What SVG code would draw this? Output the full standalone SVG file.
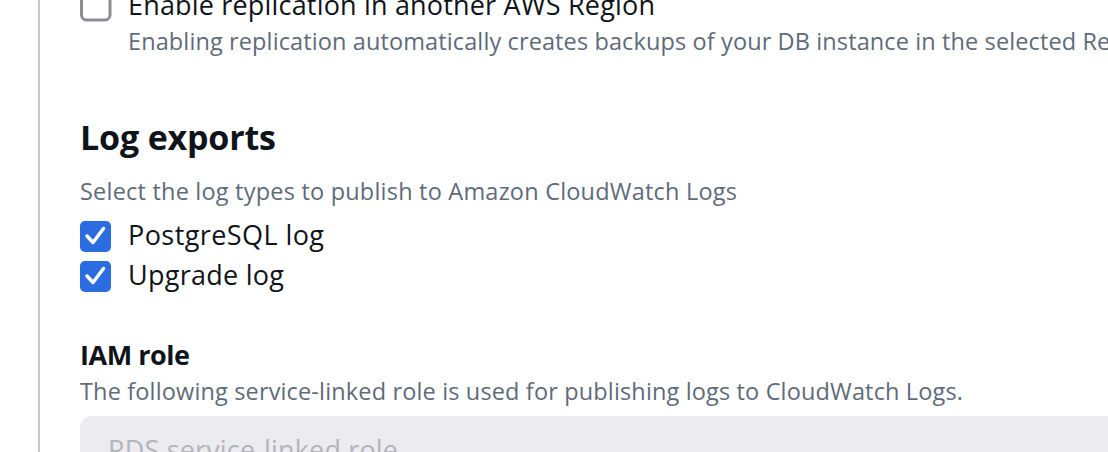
<svg xmlns="http://www.w3.org/2000/svg" width="1108" height="452" viewBox="0 0 1108 452">
<style>
.t{font-family:"Open Sans","Noto Sans","Liberation Sans",sans-serif;}
.main{font-size:27px;fill:#0f141a;}
.sub{font-size:23.5px;fill:#5f6b7a;}
.h1{font-size:34px;font-weight:bold;fill:#0f141a;}
.h2{font-size:27px;font-weight:bold;fill:#0f141a;}
.ph{font-size:27px;fill:#b4b4bb;}
.cb{fill:#2b6ce0;}
.ck{fill:none;stroke:#fff;stroke-width:3.5;stroke-linecap:round;stroke-linejoin:round;}
</style>
<rect x="0" y="0" width="1108" height="452" fill="#ffffff"/>
<rect x="38" y="0" width="2" height="452" fill="#c6c6cd"/>
<g id="replication">
<rect x="81.5" y="-12" width="28.5" height="32" rx="5" fill="#fff" stroke="#8c8c94" stroke-width="3"/>
<text class="t main" x="128" y="15" textLength="527">Enable replication in another AWS Region</text>
<text class="t sub" x="128" y="50" textLength="1030">Enabling replication automatically creates backups of your DB instance in the selected Region</text>
</g>
<g id="log-exports">
<text class="t h1" x="80" y="150" textLength="196">Log exports</text>
<text class="t sub" x="80" y="200" textLength="657">Select the log types to publish to Amazon CloudWatch Logs</text>
</g>
<g id="postgresql-log">
<rect class="cb" x="80" y="221" width="31" height="31" rx="5"/>
<path class="ck" d="M87,236 L93,242.5 L103.5,228.5"/>
<text class="t main" x="128" y="245" textLength="196">PostgreSQL log</text>
</g>
<g id="upgrade-log">
<rect class="cb" x="80" y="261" width="31" height="31" rx="5"/>
<path class="ck" d="M87,276 L93,282.5 L103.5,268.5"/>
<text class="t main" x="128" y="285" textLength="156">Upgrade log</text>
</g>
<g id="iam-role">
<text class="t h2" x="80" y="365" textLength="110">IAM role</text>
<text class="t sub" x="80" y="400" textLength="883">The following service-linked role is used for publishing logs to CloudWatch Logs.</text>
<rect x="80" y="416" width="1060" height="60" rx="12" fill="#ebebf0"/>
<text class="t ph" x="108" y="460" textLength="290">RDS service-linked role</text>
</g>
</svg>
